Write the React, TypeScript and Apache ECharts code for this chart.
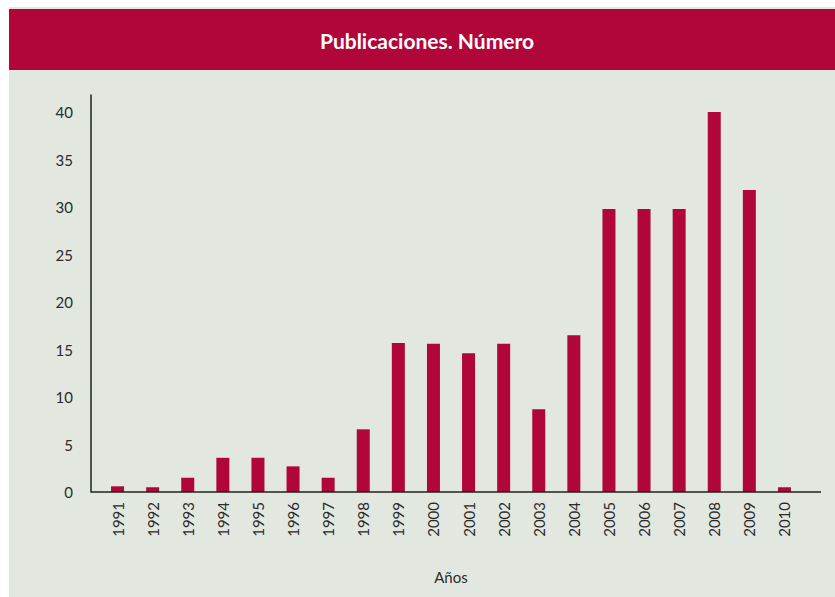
import React, { useEffect, useRef } from "react";
import * as echarts from "echarts";

const years = ["1991","1992","1993","1994","1995","1996","1997","1998","1999","2000","2001","2002","2003","2004","2005","2006","2007","2008","2009","2010"];
const values = [0.6, 0.5, 1.5, 3.6, 3.6, 2.7, 1.5, 6.6, 15.7, 15.6, 14.6, 15.6, 8.7, 16.5, 29.8, 29.8, 29.8, 40, 31.8, 0.5];
const titleText = "Publicaciones. Número";
const xAxisName = "Años";

const RED = "#b0063a";
const BG = "#e2e7e0";
const TXT = "#2b2b2b";
const FONT = "Lato, 'Open Sans', sans-serif";

export default function App() {
  const ref = useRef<HTMLDivElement>(null);
  useEffect(() => {
    if (!ref.current) return;
    const chart = echarts.init(ref.current, null, { renderer: "svg" });
    chart.setOption({
      animation: false,
      backgroundColor: "#ffffff",
      graphic: [
        { type: "rect", z: -10, shape: { x: 9, y: 7, width: 826, height: 590 }, style: { fill: BG } },
        { type: "rect", z: -9, shape: { x: 9, y: 9, width: 826, height: 61 }, style: { fill: RED } },
        {
          type: "text", z: 10, x: 427, y: 40,
          style: { text: titleText, fill: "#ffffff", font: `bold 21px ${FONT}`, align: "center", verticalAlign: "middle" },
        },
        { type: "line", z: 10, shape: { x1: 91, y1: 492, x2: 821, y2: 492 }, style: { stroke: "#222", lineWidth: 1.5 } },
      ],
      grid: { left: 100, right: 33, top: 95, bottom: 105, containLabel: false },
      xAxis: {
        type: "category",
        data: years,
        axisLine: { show: false },
        axisTick: { show: false },
        axisLabel: { rotate: 90, margin: 10, color: TXT, fontSize: 15, fontFamily: FONT },
        name: xAxisName,
        nameLocation: "middle",
        nameGap: 77,
        nameTextStyle: { color: TXT, fontSize: 15, fontFamily: FONT },
      },
      yAxis: {
        type: "value",
        min: 0,
        max: 41.8,
        interval: 5,
        offset: 9,
        splitLine: { show: false },
        axisTick: { show: false },
        axisLine: { show: true, lineStyle: { color: "#222", width: 1.5 } },
        axisLabel: {
          margin: 18, color: TXT, fontSize: 15, fontFamily: FONT,
          formatter: (v: number) => (v % 5 === 0 ? String(v) : ""),
        },
      },
      series: [
        {
          type: "bar",
          data: values,
          barWidth: 13,
          itemStyle: { color: RED },
        },
      ],
    });
    return () => chart.dispose();
  }, []);
  return <div ref={ref} style={{ position: "absolute", left: 0, top: 0, width: 835, height: 597 }} />;
}
